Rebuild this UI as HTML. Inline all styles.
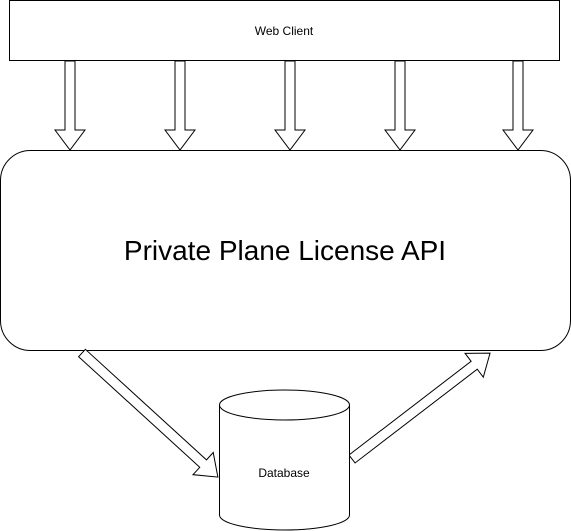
<!DOCTYPE html>
<html><head><style>body{margin:0;background:#fff}svg{display:block}</style></head>
<body>
<svg width="571" height="531" xmlns="http://www.w3.org/2000/svg" font-family="Liberation Sans, Arial, sans-serif">
<rect x="9.5" y="0.5" width="550" height="60" fill="#fff" stroke="#000"/>
<text x="284" y="35" font-size="12" text-anchor="middle">Web Client</text>
<g fill="#fff" stroke="#000" stroke-width="1">
<polygon transform="translate(70,61) rotate(90)" points="0,-5 69,-5 69,-15 89,0 69,15 69,5 0,5"/>
<polygon transform="translate(180,61) rotate(90)" points="0,-5 69,-5 69,-15 89,0 69,15 69,5 0,5"/>
<polygon transform="translate(290,61) rotate(90)" points="0,-5 69,-5 69,-15 89,0 69,15 69,5 0,5"/>
<polygon transform="translate(400,61) rotate(90)" points="0,-5 69,-5 69,-15 89,0 69,15 69,5 0,5"/>
<polygon transform="translate(518,61) rotate(90)" points="0,-5 69,-5 69,-15 89,0 69,15 69,5 0,5"/>
</g>
<rect x="0.5" y="150.5" width="570" height="200" rx="30" fill="#fff" stroke="#000"/>
<text x="285" y="260" font-size="28" text-anchor="middle">Private Plane License API</text>
<g fill="#fff" stroke="#000">
<polygon transform="translate(82,353) rotate(42.4)" points="0,-5 164,-5 164,-15 184,0 164,15 164,5 0,5"/>
<polygon transform="translate(352,459) rotate(-37.5)" points="0,-5 154,-5 154,-15 174,0 154,15 154,5 0,5"/>
</g>
<path d="M219.5,405 L219.5,515 A65,15 0 0 0 349.5,515 L349.5,405 A65,15 0 0 0 219.5,405 A65,15 0 0 0 349.5,405" fill="#fff" stroke="#000"/>
<text x="284" y="477" font-size="12" text-anchor="middle">Database</text>
</svg>
</body></html>
